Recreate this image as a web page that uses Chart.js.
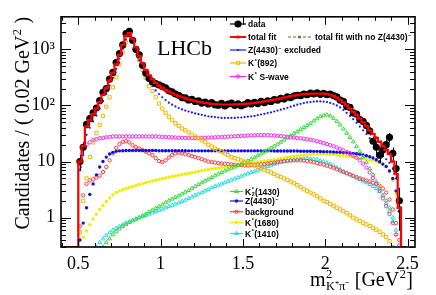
<!DOCTYPE html>
<html lang="en">
<head>
<meta charset="UTF-8">
<title>m2(K+pi-) projection</title>
<style>
  body { margin: 0; background: #fff; }
  .chart-container { position: relative; width: 436px; height: 295px; }
</style>
<script src="https://cdn.jsdelivr.net/npm/chart.js"></script>
</head>
<body>
<div class="chart-container"><canvas id="mkpiChart"></canvas></div>
<script>
// bin centres (0.02 GeV^2 bins)
const mass = [
  0.51,0.53,0.55,0.57,0.59,0.61,0.63,0.65,0.67,0.69,
  0.71,0.73,0.75,0.77,0.79,0.81,0.83,0.85,0.87,0.89,
  0.91,0.93,0.95,0.97,0.99,1.01,1.03,1.05,1.07,1.09,
  1.11,1.13,1.15,1.17,1.19,1.21,1.23,1.25,1.27,1.29,
  1.31,1.33,1.35,1.37,1.39,1.41,1.43,1.45,1.47,1.49,
  1.51,1.53,1.55,1.57,1.59,1.61,1.63,1.65,1.67,1.69,
  1.71,1.73,1.75,1.77,1.79,1.81,1.83,1.85,1.87,1.89,
  1.91,1.93,1.95,1.97,1.99,2.01,2.03,2.05,2.07,2.09,
  2.11,2.13,2.15,2.17,2.19,2.21,2.23,2.25,2.27,2.29,
  2.31,2.33,2.35,2.37,2.39,2.41,2.43,2.45
];
// empty bins either side of the populated range (fit histogram sits on the axis floor there)
const fitMassLow = [0.41, 0.43, 0.45, 0.47, 0.49];
const fitMassHigh = [2.47, 2.49];
const fitFloor = 0.3;

const dataCounts = [
  10, 18, 46, 58, 74, 90, 122, 172, 200, 295,
  390, 580, 840, 1200, 1900, 2100, 1450, 1000, 800, 520,
  380, 305, 265, 245, 232, 218, 205, 182, 175, 160,
  152, 138, 136, 125, 128, 118, 121, 110, 115, 106,
  112, 103, 101, 109, 98, 106, 110, 100, 107, 99,
  104, 112, 106, 114, 108, 118, 112, 121, 118, 127,
  124, 134, 130, 142, 138, 148, 152, 149, 160, 155,
  166, 160, 168, 158, 165, 155, 160, 150, 142, 125,
  118, 96, 92, 74, 70, 56, 52, 44, 35, 23,
  18, 13, 16, 20, 27, 14, 7.5, 2
];
const totalFit = [
  10, 19, 42, 55, 70, 88, 115, 155, 205, 280,
  380, 540, 800, 1200, 1750, 1950, 1550, 1080, 760, 560,
  430, 345, 290, 252, 225, 205, 190, 176, 165, 155,
  147, 140, 134, 128, 124, 120, 116, 113, 111, 109,
  107, 106, 105, 104, 104, 104, 104, 105, 105, 106,
  107, 108, 109, 111, 113, 115, 118, 121, 124, 127,
  130, 134, 138, 142, 146, 150, 153, 156, 159, 161,
  162, 163, 163, 163, 162, 160, 155, 148, 138, 126,
  113, 100, 88, 77, 67, 58, 50, 43, 36, 31,
  26.5, 22.5, 19, 16, 13.5, 10, 6, 1.5
];
const noZFit = [
  10, 19, 42, 55, 70, 88, 115, 155, 205, 280,
  380, 540, 800, 1200, 1750, 1950, 1550, 1080, 760, 560,
  430, 345, 290, 252, 225, 205, 190, 176, 165, 155,
  147, 140, 134, 128, 124, 120, 116, 113, 111, 109,
  107, 106, 105, 104, 104, 104, 104, 105, 105, 106,
  107, 108, 109, 111, 113, 115, 118, 121, 124, 127,
  130, 134, 138, 142, 146, 150, 153, 156, 159, 161,
  162, 163, 163, 163, 162, 160, 155, 148, 138, 126,
  113, 100, 88, 77, 67, 58, 50, 43, 37, 32,
  28, 24, 20.5, 17.5, 14.5, 10.5, 6.3, 1.6
];
const zExcluded = [
  7, 13, 30, 40, 52, 66, 88, 120, 160, 225,
  310, 450, 680, 1020, 1500, 1700, 1350, 920, 640, 460,
  345, 270, 220, 185, 160, 140, 125, 112, 103, 96,
  90, 85, 81, 78, 75, 72, 70, 68, 66, 64,
  63, 62, 61, 60, 60, 60, 60, 60, 61, 61,
  62, 63, 64, 65, 67, 69, 71, 73, 75, 78,
  81, 84, 87, 91, 95, 99, 103, 107, 110, 113,
  115, 117, 118, 118, 117, 115, 111, 106, 100, 92,
  83, 74, 65, 57, 49, 42, 36, 31, 26, 22,
  18.5, 15.5, 13, 11, 9.5, 7.5, 5, 1.5
];
const kst892 = [
  0.55, 2.0, 5, 12, 22, 32, 45, 65, 95, 140,
  210, 320, 540, 900, 1350, 1700, 1500, 1000, 650, 430,
  310, 220, 180, 140, 108, 88, 74, 63, 55, 48,
  43, 39, 36, 33, 30, 28, 26, 24, 22, 20,
  18.5, 17, 16, 15, 14, 13, 12, 11.5, 11, 10.5,
  10, 9.5, 9, 8.5, 8, 7.6, 7.2, 6.8, 6.4, 6,
  5.6, 5.3, 5, 4.7, 4.4, 4.1, 3.8, 3.5, 3.2, 3.0,
  2.8, 2.6, 2.4, 2.2, 2.0, 1.9, 1.75, 1.6, 1.5, 1.4,
  1.3, 1.2, 1.1, 1.0, 0.93, 0.87, 0.81, 0.76, 0.71, 0.66,
  0.61, 0.56, 0.5, 0.45, 0.38, 0.3, null, null
];
const sWave = [
  8, 17, 20, 22, 24, 25, 26, 26.5, 27, 27.5,
  28, 28, 28, 28, 28, 28, 28, 28, 28, 28,
  28, 28, 28, 28, 27.8, 27.6, 27.4, 27.2, 27, 26.8,
  26.6, 26.5, 26.4, 26.3, 26.3, 26.3, 26.4, 26.5, 26.6, 26.7,
  26.8, 27, 27.2, 27.4, 27.6, 27.8, 28, 28.2, 28.4, 28.6,
  28.8, 29, 29.2, 29.4, 29.5, 29.6, 29.6, 29.5, 29.3, 29,
  28.7, 28.4, 28, 27.6, 27.2, 26.8, 26.4, 26, 25.5, 25,
  24.4, 23.8, 23, 22.2, 21.4, 20.5, 19.6, 18.7, 17.8, 16.8,
  15.8, 14.8, 13.8, 12.8, 11.7, 10.5, 9.2, 7.8, 6.4, 5.1,
  4.0, 3.0, 2.2, 1.6, 1.15, 0.8, 0.5, 0.32
];
const kst21430 = [
  null, null, null, null, null, null, null, 0.3, 0.36, 0.42,
  0.5, 0.56, 0.63, 0.7, 0.76, 0.82, 0.88, 0.94, 1.0, 1.08,
  1.16, 1.26, 1.36, 1.47, 1.58, 1.7, 1.85, 2.0, 2.15, 2.3,
  2.45, 2.65, 2.85, 3.05, 3.3, 3.6, 3.9, 4.2, 4.5, 4.85,
  5.2, 5.6, 6.0, 6.4, 6.8, 7.2, 7.6, 8.0, 8.5, 9.0,
  9.6, 10.3, 11, 11.8, 12.7, 13.7, 14.8, 16, 17.3, 18.8,
  20.4, 22.2, 24.2, 26.4, 28.8, 31.4, 34.2, 37.3, 40.6, 44,
  48, 53, 58, 63, 67, 68, 65, 59, 52, 45,
  38, 32, 27, 22.5, 18.5, 15, 12, 9.6, 7.5, 5.8,
  4.4, 3.3, 2.5, 1.8, 1.3, 0.85, 0.5, null
];
const z4430 = [
  0.4, 0.8, 1.5, 2.6, 4.0, 5.8, 8.0, 10, 12, 13.6,
  14.6, 15.2, 15.5, 15.6, 15.7, 15.7, 15.7, 15.7, 15.7, 15.7,
  15.7, 15.7, 15.7, 15.7, 15.6, 15.6, 15.6, 15.6, 15.6, 15.6,
  15.6, 15.6, 15.6, 15.5, 15.5, 15.5, 15.5, 15.5, 15.5, 15.5,
  15.5, 15.5, 15.5, 15.5, 15.5, 15.5, 15.5, 15.5, 15.5, 15.5,
  15.5, 15.5, 15.5, 15.5, 15.5, 15.5, 15.5, 15.5, 15.5, 15.4,
  15.4, 15.4, 15.4, 15.4, 15.4, 15.4, 15.4, 15.3, 15.3, 15.3,
  15.3, 15.2, 15.2, 15.1, 15.0, 15.0, 14.9, 14.8, 14.7, 14.6,
  14.5, 14.3, 14.2, 14.0, 13.8, 13.5, 13.1, 12.7, 12.2, 11.6,
  10.8, 9.9, 9.0, 8.2, 6.8, 5.0, 3.0, 1.3
];
const background = [
  0.7, 2.5, 4.0, 4.6, 4.8, 5.2, 5.6, 6.5, 8.0, 10.5,
  14, 17.5, 20.5, 22.5, 23, 22, 19.5, 18, 17, 16,
  15, 14, 13, 11.5, 10.2, 9.8, 10.5, 11.8, 13, 14,
  14.5, 14, 13.5, 13, 12.5, 12, 11.5, 11, 10.5, 10,
  9.8, 9.6, 9.4, 9.2, 9.1, 9.0, 8.9, 8.8, 8.7, 8.6,
  8.5, 8.5, 8.6, 8.7, 8.8, 8.9, 9.0, 9.2, 9.4, 9.6,
  9.8, 10, 10.2, 10.3, 10.4, 10.5, 10.5, 10.5, 10.4, 10.2,
  10.0, 9.7, 9.4, 9.1, 8.8, 8.5, 8.1, 7.7, 7.3, 6.9,
  6.5, 6.2, 5.9, 5.6, 5.3, 5.0, 4.8, 4.6, 4.4, 4.2,
  4.0, 3.7, 3.3, 2.8, 2.1, 1.4, 0.8, 0.4
];
const kst1680 = [
  null, 0.45, 0.58, 0.75, 0.95, 1.15, 1.4, 1.65, 1.95, 2.25,
  2.55, 2.8, 3.0, 3.15, 3.3, 3.45, 3.6, 3.75, 3.9, 4.05,
  4.2, 4.35, 4.5, 4.65, 4.8, 4.95, 5.1, 5.25, 5.4, 5.55,
  5.7, 5.85, 6.0, 6.15, 6.3, 6.5, 6.7, 6.9, 7.05, 7.2,
  7.35, 7.5, 7.65, 7.8, 7.95, 8.1, 8.25, 8.4, 8.6, 8.8,
  9.0, 9.2, 9.4, 9.6, 9.8, 10.0, 10.2, 10.4, 10.6, 10.8,
  11.0, 11.3, 11.6, 11.9, 12.2, 12.5, 12.7, 12.9, 13.1, 13.3,
  13.5, 13.6, 13.7, 13.7, 13.7, 13.6, 13.5, 13.3, 13.1, 12.9,
  12.7, 12.5, 12.3, 12.1, 11.9, 11.6, 11.3, 11.0, 10.7, 10.4,
  10.0, 9.6, 9.0, 8.0, 6.9, 4.6, 2.7, 1.0
];
const kst1410 = [
  null, null, null, null, null, 0.3, 0.36, 0.42, 0.48, 0.54,
  0.6, 0.65, 0.7, 0.75, 0.8, 0.85, 0.9, 0.95, 1.0, 1.05,
  1.1, 1.16, 1.22, 1.28, 1.35, 1.42, 1.5, 1.58, 1.66, 1.75,
  1.85, 1.95, 2.05, 2.2, 2.35, 2.5, 2.65, 2.8, 3.0, 3.2,
  3.4, 3.6, 3.8, 4.0, 4.2, 4.45, 4.7, 4.95, 5.2, 5.5,
  5.8, 6.1, 6.4, 6.7, 7.0, 7.4, 7.8, 8.2, 8.6, 9.0,
  9.4, 9.7, 10.0, 10.3, 10.6, 10.8, 11.0, 11.2, 11.3, 11.3,
  11.2, 11.0, 10.8, 10.4, 10.0, 9.5, 9.0, 8.4, 7.8, 7.2,
  6.7, 6.2, 5.8, 5.4, 5.1, 4.8, 4.5, 4.2, 3.9, 3.6,
  3.3, 2.9, 2.5, 2.0, 1.5, 1.0, 0.6, null
];

const xMajorTicks = [0.5, 1, 1.5, 2, 2.5];
const xTickLabels = ['0.5', '1', '1.5', '2', '2.5'];
const yMajorTicks = [1, 10, 100, 1000];
const yTickLabels = ['1', '10', '10\u00B2', '10\u00B3'];

const serif = 'Liberation Serif';
const sans = 'Liberation Sans';

function points(xs, ys) {
  return xs.map((x, i) => ({ x: x, y: ys[i] }));
}
function withEdges(ys) {
  return fitMassLow.map(() => fitFloor).concat(ys, fitMassHigh.map(() => fitFloor));
}
const fitMass = fitMassLow.concat(mass, fitMassHigh);

function markerSet(label, values, style, radius, color, filled, order) {
  return {
    label: label,
    data: points(mass, values),
    showLine: false,
    pointStyle: style,
    pointRadius: radius,
    pointBorderWidth: filled ? 0 : 1,
    pointBorderColor: color,
    pointBackgroundColor: filled ? color : 'rgba(0,0,0,0)',
    borderColor: color,
    order: order
  };
}

// draws text with ROOT-like ^{} and _{} pieces, returns width
function drawRich(ctx, parts, x, y, size, weight, family, measureOnly) {
  let cx = x;
  parts.forEach(p => {
    if (typeof p === 'string') {
      ctx.font = weight + ' ' + size + 'px "' + family + '"';
      if (!measureOnly) ctx.fillText(p, cx, y);
      cx += ctx.measureText(p).width;
    } else {
      const s = size * 0.62;
      ctx.font = weight + ' ' + s + 'px "' + family + '"';
      let w = 0;
      if (p.sup) {
        if (!measureOnly) ctx.fillText(p.sup, cx + 0.5, y - size * 0.4);
        w = ctx.measureText(p.sup).width;
      }
      if (p.sub) {
        if (!measureOnly) ctx.fillText(p.sub, cx + 0.5, y + size * 0.22);
        w = Math.max(w, ctx.measureText(p.sub).width);
      }
      cx += w + 1;
    }
  });
  return cx - x;
}

const legendRows = [
  { label: 'data', x: 230, w: 16, y: 24, tx: 248, parts: ['data'] },
  { label: 'total fit', x: 230, w: 16, y: 37, tx: 248, parts: ['total fit'] },
  { label: 'Z excluded', x: 230, w: 16, y: 50, tx: 248, parts: ['Z(4430)', { sup: '\u2212' }, ' excluded'] },
  { label: 'K*(892)', x: 230, w: 16, y: 63, tx: 248, parts: ['K', { sup: '*' }, '(892)'] },
  { label: 'K* S-wave', x: 230, w: 16, y: 76.5, tx: 248, parts: ['K', { sup: '*' }, ' S-wave'] },
  { label: 'no Z fit', x: 288, w: 23, y: 37, tx: 315, parts: ['total fit with no Z(4430)', { sup: '\u2212' }] },
  { label: 'K*2(1430)', x: 230, w: 13, y: 191.5, tx: 245, parts: ['K', { sup: '*', sub: '2' }, '(1430)'] },
  { label: 'Z(4430)', x: 230, w: 13, y: 201, tx: 245, parts: ['Z(4430)', { sup: '\u2212' }] },
  { label: 'background', x: 230, w: 13, y: 211.7, tx: 245, parts: ['background'] },
  { label: 'K*(1680)', x: 230, w: 13, y: 222.5, tx: 245, parts: ['K', { sup: '*' }, '(1680)'] },
  { label: 'K*(1410)', x: 230, w: 13, y: 233.5, tx: 245, parts: ['K', { sup: '*' }, '(1410)'] }
];

const rootStyle = {
  id: 'rootStyle',
  afterDatasetDraw(chart, args) {
    const ds = chart.data.datasets[args.index];
    if (ds.label !== 'data') return;
    const ctx = chart.ctx, ys = chart.scales.y, a = chart.chartArea;
    ctx.save();
    ctx.strokeStyle = '#000';
    ctx.lineWidth = 1;
    ctx.beginPath();
    args.meta.data.forEach((pt, i) => {
      const v = ds.data[i].y;
      if (v == null) return;
      const e = Math.sqrt(v);
      const top = ys.getPixelForValue(v + e);
      const bot = v - e > ys.min ? ys.getPixelForValue(v - e) : a.bottom;
      ctx.moveTo(Math.round(pt.x) + 0.5, top);
      ctx.lineTo(Math.round(pt.x) + 0.5, bot);
    });
    ctx.stroke();
    ctx.restore();
  },
  afterDraw(chart) {
    const ctx = chart.ctx, a = chart.chartArea;
    const xs = chart.scales.x, ys = chart.scales.y;
    ctx.save();
    // inside ticks on all four sides
    ctx.strokeStyle = '#000';
    ctx.lineWidth = 1;
    ctx.beginPath();
    xs.ticks.forEach(t => {
      const px = Math.round(xs.getPixelForValue(t.value)) + 0.5;
      const len = xMajorTicks.some(m => Math.abs(m - t.value) < 1e-6) ? 8 : 4;
      ctx.moveTo(px, a.bottom); ctx.lineTo(px, a.bottom - len);
      ctx.moveTo(px, a.top); ctx.lineTo(px, a.top + len);
    });
    ys.ticks.forEach(t => {
      const py = Math.round(ys.getPixelForValue(t.value)) + 0.5;
      const len = yMajorTicks.some(m => Math.abs(m - t.value) < 1e-6) ? 10 : 5;
      ctx.moveTo(a.left, py); ctx.lineTo(a.left + len, py);
      ctx.moveTo(a.right, py); ctx.lineTo(a.right - len, py);
    });
    ctx.stroke();
    ctx.lineWidth = 1.6;
    ctx.strokeRect(a.left, a.top, a.right - a.left, a.bottom - a.top);

    ctx.fillStyle = '#000';
    ctx.textAlign = 'left';
    ctx.textBaseline = 'alphabetic';
    ctx.font = '22px "' + serif + '"';
    ctx.fillText('LHCb', 157, 55);

    // x title, right aligned to the frame
    const xt = ['m', { sup: '2', sub: 'K\u207A\u03C0\u207B' }, ' [GeV', { sup: '2' }, ']'];
    const xw = drawRich(ctx, xt, 0, 0, 20, 'normal', serif, true);
    drawRich(ctx, xt, 413 - xw, 286, 20, 'normal', serif, false);

    // y title, rotated, right aligned to the top of the frame
    const yt = ['Candidates / ( 0.02 GeV', { sup: '2' }, ' )'];
    const yw = drawRich(ctx, yt, 0, 0, 20, 'normal', serif, true);
    ctx.save();
    ctx.translate(29, a.top);
    ctx.rotate(-Math.PI / 2);
    drawRich(ctx, yt, -yw, 0, 20, 'normal', serif, false);
    ctx.restore();

    // legend boxes drawn in the frame
    legendRows.forEach(row => {
      const ds = chart.data.datasets.find(d => d.label === row.label);
      const cx = row.x + row.w / 2;
      ctx.save();
      ctx.strokeStyle = ds.borderColor;
      ctx.lineWidth = ds.label === 'total fit' ? 2 : 1.2;
      ctx.setLineDash(ds.borderDash || []);
      ctx.beginPath();
      ctx.moveTo(row.x, row.y);
      ctx.lineTo(row.x + row.w, row.y);
      ctx.stroke();
      ctx.setLineDash([]);
      ctx.fillStyle = ds.pointBackgroundColor;
      ctx.strokeStyle = ds.pointBorderColor;
      ctx.lineWidth = ds.pointBorderWidth;
      Chart.helpers.drawPoint(ctx, {
        pointStyle: ds.pointStyle,
        radius: ds.legendRadius || ds.pointRadius,
        borderWidth: ds.pointBorderWidth,
        rotation: 0
      }, cx, row.y);
      ctx.restore();
      ctx.fillStyle = '#000';
      drawRich(ctx, row.parts, row.tx, row.y + 3, 8.5, 'bold', sans, false);
    });
    ctx.restore();
  }
};

const datasets = [
  {
    label: 'total fit',
    data: points(fitMass, withEdges(totalFit)),
    borderColor: '#ff0000',
    borderWidth: 2.2,
    stepped: 'middle',
    pointRadius: 0,
    pointStyle: 'rect',
    legendRadius: 2,
    pointBorderWidth: 0,
    pointBorderColor: '#ff0000',
    pointBackgroundColor: '#ff0000',
    order: 0
  },
  {
    label: 'data',
    data: points(mass, dataCounts),
    showLine: false,
    pointStyle: 'circle',
    pointRadius: 3.6,
    pointBorderWidth: 0,
    pointBackgroundColor: '#000',
    pointBorderColor: '#000',
    borderColor: '#000',
    order: 1
  },
  {
    label: 'no Z fit',
    data: points(fitMass, withEdges(noZFit)),
    borderColor: '#8b5a3c',
    borderWidth: 1,
    borderDash: [3, 2],
    stepped: 'middle',
    pointRadius: 0,
    pointStyle: 'circle',
    legendRadius: 1.5,
    pointBorderWidth: 0,
    pointBorderColor: '#8b5a3c',
    pointBackgroundColor: '#8b5a3c',
    order: 2
  },
  markerSet('Z excluded', zExcluded, 'circle', 1.1, '#1515ff', true, 3),
  markerSet('K*(892)', kst892, 'rect', 2.3, '#f2b800', false, 4),
  markerSet('K* S-wave', sWave, 'circle', 1.7, '#ff22ff', false, 5),
  markerSet('K*2(1430)', kst21430, 'triangle', 2.2, '#33dd33', false, 6),
  markerSet('Z(4430)', z4430, 'circle', 1.7, '#1010e0', true, 7),
  markerSet('background', background, 'circle', 1.7, '#ff3a3a', false, 8),
  markerSet('K*(1680)', kst1680, 'circle', 1.7, '#eeee00', true, 9),
  markerSet('K*(1410)', kst1410, 'triangle', 2.2, '#22dde8', false, 10)
];

const ctx = document.getElementById('mkpiChart').getContext('2d');
const mkpiChart = new Chart(ctx, {
  type: 'line',
  data: { datasets: datasets },
  options: {
    responsive: true,
    maintainAspectRatio: false,
    animation: false,
    events: [],
    layout: { padding: { left: 0, right: 21, top: 14, bottom: 0 } },
    plugins: { legend: { display: false }, tooltip: { enabled: false } },
    scales: {
      x: {
        type: 'linear',
        min: 0.395,
        max: 2.545,
        grid: { display: false, drawTicks: false },
        border: { display: false },
        afterBuildTicks(scale) {
          const t = [];
          for (let i = 4; i <= 25; i++) t.push({ value: i / 10 });
          scale.ticks = t;
        },
        afterFit(scale) { scale.height = 48; },
        ticks: {
          autoSkip: false,
          maxRotation: 0,
          padding: 6,
          color: '#000',
          font: { family: serif, size: 18 },
          callback(value) {
            const k = xMajorTicks.findIndex(m => Math.abs(m - value) < 1e-6);
            return k >= 0 ? xTickLabels[k] : '';
          }
        }
      },
      y: {
        type: 'logarithmic',
        min: 0.3,
        max: 3800,
        grid: { display: false, drawTicks: false },
        border: { display: false },
        afterBuildTicks(scale) {
          const t = [];
          [0.1, 1, 10, 100, 1000].forEach(d => {
            for (let k = 1; k <= 9; k++) {
              const v = Math.round(d * k * 10) / 10;
              if (v >= 0.3 && v <= 3800) t.push({ value: v });
            }
          });
          scale.ticks = t;
        },
        afterFit(scale) { scale.width = 61; },
        ticks: {
          autoSkip: false,
          padding: 6,
          color: '#000',
          font: { family: serif, size: 18 },
          callback(value) {
            const k = yMajorTicks.findIndex(m => Math.abs(m - value) < 1e-6);
            return k >= 0 ? yTickLabels[k] : '';
          }
        }
      }
    }
  },
  plugins: [rootStyle]
});
</script>
</body>
</html>
